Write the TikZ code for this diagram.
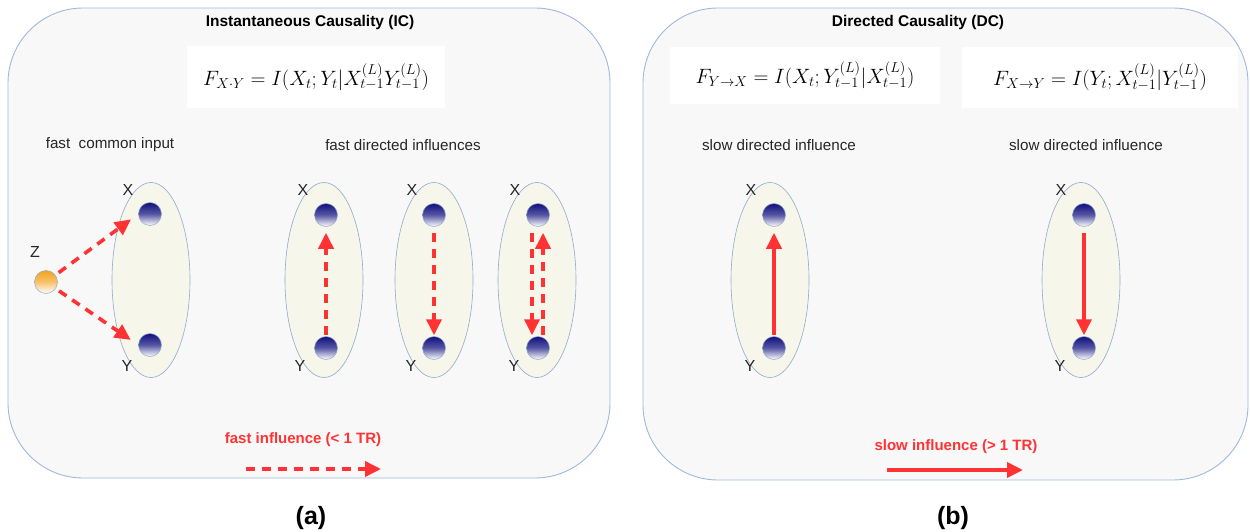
\documentclass[tikz,border=0pt]{standalone}
\usepackage{fontspec}
\setmainfont{Liberation Sans}
\usetikzlibrary{arrows.meta,shapes.geometric}
\definecolor{panelfill}{HTML}{F8F8F8}
\definecolor{panelline}{HTML}{9FB8DE}
\definecolor{ellfill}{HTML}{F6F6EA}
\definecolor{ellline}{HTML}{90AACB}
\definecolor{arrred}{HTML}{FF3333}
\definecolor{navy}{HTML}{10107E}
\definecolor{orng}{HTML}{F3A21E}
\tikzset{
  panel/.style={draw=panelline, line width=0.9pt, fill=panelfill, rounded corners=75pt},
  fbox/.style={fill=white, draw=none, inner sep=0pt},
  title/.style={font=\fontsize{15.5}{18}\selectfont\bfseries},
  lbl/.style={font=\fontsize{15.2}{17}\selectfont, text=black!85},
  xy/.style={font=\fontsize{16}{18}\selectfont, text=black!85},
  ell/.style={draw=ellline, line width=0.6pt, fill=ellfill, ellipse, minimum width=78pt, minimum height=195pt, inner sep=0pt},
  ball/.style={circle, minimum size=23pt, inner sep=0pt, draw=ellline, line width=0.5pt, top color=navy, bottom color=white, middle color=navy!70!white},
  zball/.style={circle, minimum size=23pt, inner sep=0pt, draw=ellline, line width=0.5pt, top color=orng, bottom color=white, middle color=orng!65!white},
  fast/.style={draw=arrred, line width=3.6pt, dash pattern=on 9pt off 7pt, -{Triangle[length=16pt,width=15pt]}},
  slow/.style={draw=arrred, line width=3.6pt, -{Triangle[length=16pt,width=15pt]}},
  legend/.style={font=\fontsize{15}{17}\selectfont\bfseries, text=arrred},
  captext/.style={font=\fontsize{25}{28}\selectfont\bfseries}
}
\begin{document}
\begin{tikzpicture}[x=1pt,y=-1pt]
\useasboundingbox (0,0) rectangle (1250,532);
% panels
\draw[panel] (8,8) rectangle (610,478);
\draw[panel] (643,8) rectangle (1248,480);
% titles
\node[title] (t1) at (310,22) {Instantaneous Causality (IC)};
\node[title] (t2) at (918,22) {Directed Causality (DC)};
% formula boxes
\node[fbox, minimum width=258pt, minimum height=62pt] (f1) at (316,77) {\fontsize{20}{24}\selectfont $F_{X\cdot Y}=I(X_t;Y_t|X^{(L)}_{t-1}Y^{(L)}_{t-1})$};
\node[fbox, minimum width=270pt, minimum height=57pt] (f2) at (805,75.5) {\fontsize{20}{24}\selectfont $F_{Y\to X}=I(X_t;Y^{(L)}_{t-1}|X^{(L)}_{t-1})$};
\node[fbox, minimum width=276pt, minimum height=61pt] (f3) at (1100,77.5) {\fontsize{20}{24}\selectfont $F_{X\to Y}=I(Y_t;X^{(L)}_{t-1}|Y^{(L)}_{t-1})$};
% section labels
\node[lbl] (l1) at (110,145) {fast\ \ common input};
\node[lbl] (l2) at (403,145) {fast directed influences};
\node[lbl] (l3) at (779,145) {slow directed influence};
\node[lbl] (l4) at (1086,145) {slow directed influence};
% ellipses
\node[ell] (e1) at (151,280) {};
\node[ell] (e2) at (324,280) {};
\node[ell] (e3) at (434,280) {};
\node[ell] (e4) at (537,280) {};
\node[ell] (e5) at (770,280) {};
\node[ell] (e6) at (1081,280) {};
% balls
\node[ball] (x1) at (150,214) {};
\node[ball] (y1) at (150,345) {};
\node[ball] (x2) at (326,215) {};
\node[ball] (y2) at (326,348) {};
\node[ball] (x3) at (434,215) {};
\node[ball] (y3) at (434,348) {};
\node[ball] (x4) at (538,215) {};
\node[ball] (y4) at (538,348) {};
\node[ball] (x5) at (774,215) {};
\node[ball] (y5) at (774,348) {};
\node[ball] (x6) at (1084,215) {};
\node[ball] (y6) at (1084,348) {};
\node[zball] (z) at (46,282) {};
% X/Y labels
\node[xy] (lx1) at (128,190) {X};
\node[xy] (ly1) at (127,366) {Y};
\node[xy] (lx2) at (303,190) {X};
\node[xy] (ly2) at (300,366) {Y};
\node[xy] (lx3) at (412,190) {X};
\node[xy] (ly3) at (411,366) {Y};
\node[xy] (lx4) at (515,190) {X};
\node[xy] (ly4) at (514,366) {Y};
\node[xy] (lx5) at (751,190) {X};
\node[xy] (ly5) at (750,366) {Y};
\node[xy] (lx6) at (1061,190) {X};
\node[xy] (ly6) at (1060,366) {Y};
\node[xy] (lz) at (35,252) {Z};
% arrows
\draw[fast, shorten <=4pt, shorten >=9pt] (z) -- (x1.west);
\draw[fast, shorten <=4pt, shorten >=9pt] (z) -- (y1.west);
\draw[fast, shorten <=1pt, shorten >=6pt] (y2) -- (x2);
\draw[fast, shorten <=6pt, shorten >=1pt] (x3) -- (y3);
\draw[fast, shorten <=6pt, shorten >=1pt] ([xshift=-6pt]x4.south) -- ([xshift=-6pt]y4.north);
\draw[fast, shorten <=1pt, shorten >=6pt] ([xshift=5pt]y4.north) -- ([xshift=5pt]x4.south);
\draw[slow, shorten <=1pt, shorten >=6pt] (y5) -- (x5);
\draw[slow, shorten <=6pt, shorten >=1pt] (x6) -- (y6);
% legends
\node[legend] (lg1) at (303,440) {fast influence (< 1 TR)};
\coordinate (a1s) at (246,469);
\coordinate (a1e) at (381,469);
\draw[fast] (a1s) -- (a1e);
\node[legend] (lg2) at (956,447) {slow influence (> 1 TR)};
\coordinate (a2s) at (887,470);
\coordinate (a2e) at (1023,470);
\draw[slow] (a2s) -- (a2e);
% captions
\node[captext] (ca) at (311,518) {(a)};
\node[captext] (cb) at (953,518) {(b)};
\end{tikzpicture}
\end{document}
